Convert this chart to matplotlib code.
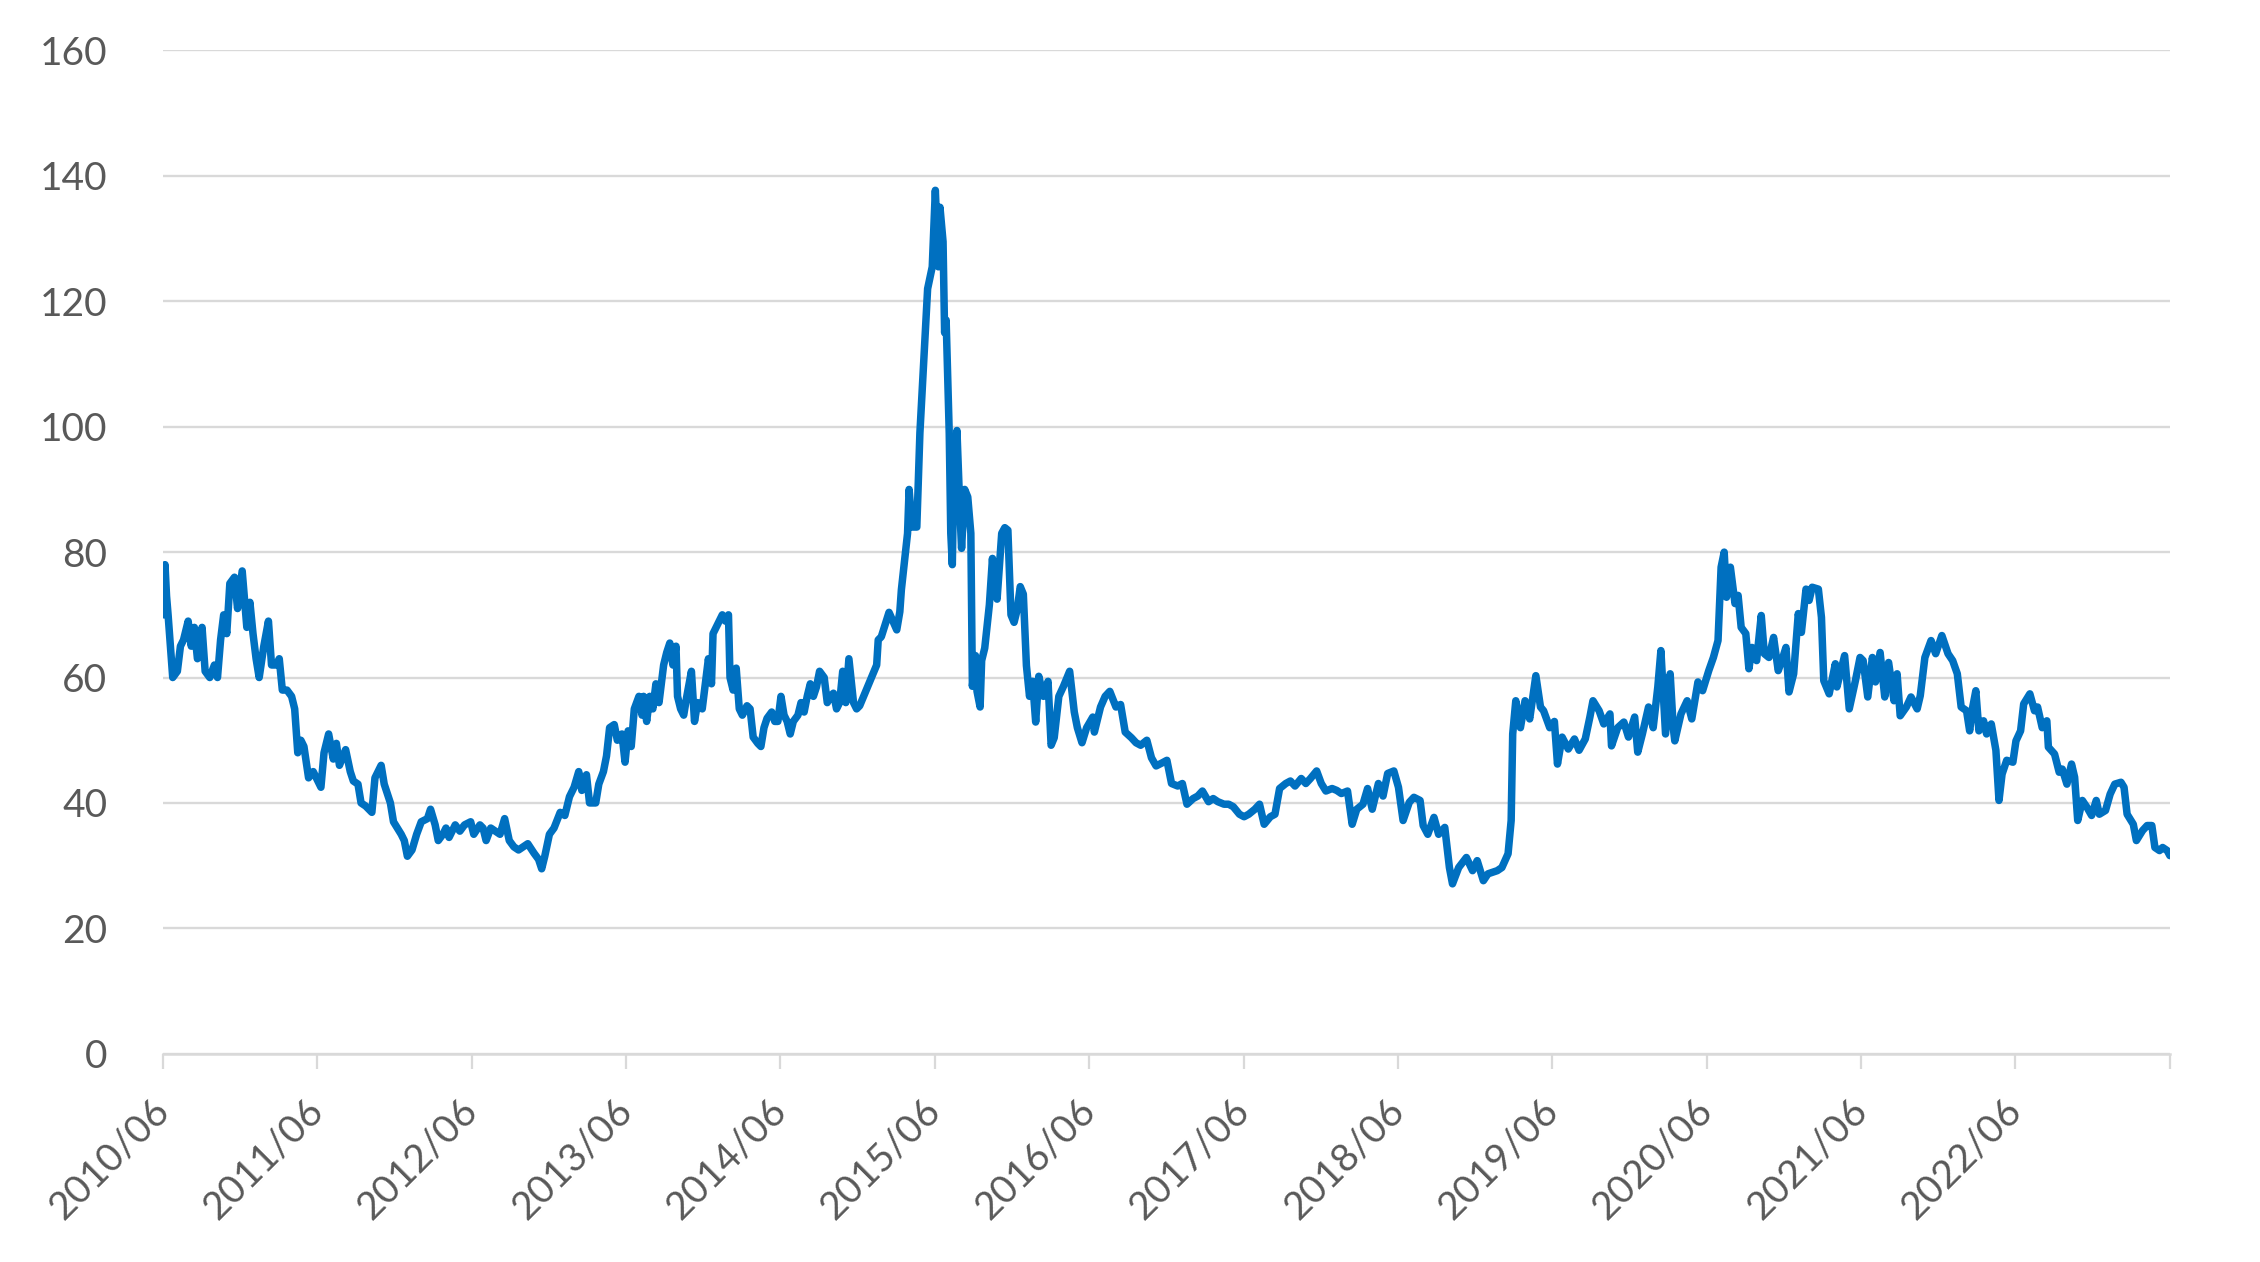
import numpy as np
import matplotlib
matplotlib.use("Agg")
import matplotlib.pyplot as plt

# values, x in decimal years
years_a = [2010.42, 2010.43, 2010.44, 2010.45, 2010.48, 2010.51, 2010.53, 2010.55, 2010.58, 2010.60,
           2010.62, 2010.64, 2010.67, 2010.69, 2010.72, 2010.75, 2010.77, 2010.79, 2010.81, 2010.83,
           2010.85, 2010.88, 2010.90, 2010.93, 2010.96, 2010.98, 2011.00, 2011.02, 2011.04, 2011.07,
           2011.10, 2011.12, 2011.15, 2011.17, 2011.19, 2011.22, 2011.25, 2011.27, 2011.29, 2011.31,
           2011.33, 2011.36, 2011.39, 2011.42, 2011.44, 2011.46, 2011.49, 2011.52, 2011.54, 2011.56,
           2011.60, 2011.63, 2011.65, 2011.68, 2011.70, 2011.73, 2011.77, 2011.79, 2011.83, 2011.85,
           2011.89, 2011.91, 2011.96, 2011.98, 2012.00, 2012.03, 2012.06, 2012.09, 2012.13, 2012.15,
           2012.18, 2012.20, 2012.23, 2012.25, 2012.27, 2012.31, 2012.34, 2012.37, 2012.41, 2012.43,
           2012.47, 2012.49, 2012.51, 2012.54, 2012.57, 2012.60, 2012.63, 2012.66, 2012.69, 2012.72,
           2012.75, 2012.78, 2012.82, 2012.85, 2012.87]
pe_a = [70, 78, 73, 70, 60, 61, 65, 66, 69, 65,
        68, 63, 68, 61, 60, 62, 60, 66, 70, 67,
        75, 76, 71, 77, 68, 72, 67, 63, 60, 65,
        69, 62, 62, 63, 58, 58, 57, 55, 48, 50,
        49, 44, 45, 43.5, 42.5, 48, 51, 47, 49.5, 46,
        48.5, 45, 43.5, 43, 40, 39.5, 38.5, 44, 46, 43,
        40, 37, 35, 34, 31.5, 32.5, 35, 37, 37.5, 39,
        36.5, 34, 35, 36, 34.5, 36.5, 35.5, 36.5, 37, 35,
        36.5, 36, 34, 36, 35.5, 35, 37.5, 34, 33, 32.5,
        33, 33.5, 32, 31, 29.5]

years_b = [2012.89, 2012.92, 2012.95, 2012.99, 2013.02, 2013.05, 2013.08, 2013.11, 2013.13, 2013.16,
           2013.18, 2013.22, 2013.24, 2013.27, 2013.29, 2013.31, 2013.34, 2013.36, 2013.39, 2013.41,
           2013.43, 2013.45, 2013.47, 2013.50, 2013.52, 2013.53, 2013.55, 2013.57, 2013.59, 2013.61,
           2013.63, 2013.66, 2013.68, 2013.70, 2013.72, 2013.74, 2013.75, 2013.77, 2013.79, 2013.81,
           2013.84, 2013.86, 2013.88, 2013.91, 2013.93, 2013.95, 2013.97, 2013.98, 2014.00, 2014.04,
           2014.06, 2014.08, 2014.09, 2014.11, 2014.13, 2014.15, 2014.17, 2014.20, 2014.22, 2014.24,
           2014.27, 2014.29, 2014.31, 2014.33, 2014.36, 2014.38, 2014.40, 2014.42, 2014.44, 2014.46,
           2014.48, 2014.50, 2014.53, 2014.55, 2014.57, 2014.59, 2014.61, 2014.63, 2014.65, 2014.67,
           2014.70, 2014.72, 2014.74, 2014.76, 2014.78, 2014.80, 2014.82, 2014.84, 2014.86, 2014.89,
           2014.91, 2014.93]
pe_b = [31.5, 35, 36, 38.5, 38, 41, 42.5, 45, 42, 44.5,
        40, 40, 43, 45, 47.5, 52, 52.5, 50, 51, 46.5,
        51.5, 49, 55, 57, 54, 57, 53, 57, 55, 59,
        56, 62, 64, 65.5, 62, 65, 57, 55, 54, 57,
        61, 53, 56, 55, 59, 63, 59, 67, 68, 70,
        69, 70, 60, 58, 61.5, 55, 54, 55.5, 55, 50.5,
        49.5, 49, 52, 53.5, 54.5, 53, 53, 57, 54, 53,
        51, 53, 54, 56, 54.5, 57, 59, 57, 58.5, 61,
        60, 56, 57, 57.5, 55, 56, 61, 56, 63, 56,
        55, 55.5]

years_c = [2015.04, 2015.05, 2015.07, 2015.12, 2015.17, 2015.19, 2015.20, 2015.24, 2015.25, 2015.27,
           2015.30, 2015.32, 2015.35, 2015.37, 2015.40, 2015.42, 2015.44, 2015.45, 2015.47, 2015.48,
           2015.49, 2015.51, 2015.52, 2015.53, 2015.54, 2015.56, 2015.58, 2015.59, 2015.61, 2015.63,
           2015.65, 2015.66, 2015.68, 2015.69, 2015.71, 2015.72, 2015.74, 2015.77, 2015.79, 2015.80,
           2015.82, 2015.85, 2015.87, 2015.89, 2015.91, 2015.93, 2015.95, 2015.97, 2015.99, 2016.01,
           2016.03, 2016.05, 2016.07, 2016.09, 2016.12, 2016.15, 2016.17, 2016.19, 2016.22, 2016.25,
           2016.29, 2016.32, 2016.34, 2016.37, 2016.40, 2016.44, 2016.45, 2016.49, 2016.52, 2016.55,
           2016.59, 2016.62, 2016.65, 2016.69, 2016.72, 2016.75, 2016.79, 2016.82, 2016.85, 2016.89,
           2016.92, 2016.95, 2016.99, 2017.02, 2017.05, 2017.09, 2017.12, 2017.15, 2017.19, 2017.22,
           2017.25, 2017.29, 2017.32, 2017.35, 2017.39, 2017.42, 2017.45, 2017.49, 2017.52, 2017.55,
           2017.59, 2017.62, 2017.65, 2017.69, 2017.72, 2017.75, 2017.79, 2017.82, 2017.85, 2017.89,
           2017.92, 2017.95, 2017.99, 2018.02, 2018.05, 2018.09, 2018.12, 2018.15, 2018.19, 2018.22,
           2018.25, 2018.29, 2018.32, 2018.35, 2018.39]
pe_c = [62, 66, 66.5, 70.4, 67.6, 70.5, 74, 83, 90, 84,
        84, 99, 113, 122, 125.5, 137.7, 125.5, 135, 129.5, 115,
        117, 99, 83, 78, 93, 99.4, 86, 80.6, 90, 88.8,
        83, 58.6, 63.5, 57.8, 55.3, 62.7, 64.7, 71.6, 79, 75,
        72.5, 83, 83.9, 83.5, 70, 68.8, 70.8, 74.5, 73.3, 61.9,
        57, 59.4, 52.9, 60.2, 57, 59.4, 49.2, 50.4, 57, 58.6,
        61, 54.5, 52, 49.6, 52, 53.7, 51.3, 55.3, 57, 57.8,
        55.3, 55.7, 51.3, 50.4, 49.6, 49.2, 50, 47.2, 45.9, 46.4,
        46.8, 43.1, 42.7, 43.1, 39.8, 40.7, 41.1, 41.9, 40.2, 40.7,
        40.2, 39.8, 39.8, 39.4, 38.2, 37.8, 38.2, 39, 39.8, 36.6,
        37.8, 38.2, 42.3, 43.1, 43.5, 42.7, 43.9, 43.1, 43.9, 45.1,
        43.1, 41.9, 42.3, 42, 41.5, 41.9, 36.6, 39, 39.8, 42.3,
        39, 43.1, 41.1, 44.7, 45.1]

years_d = [2018.42, 2018.45, 2018.49, 2018.52, 2018.56, 2018.58, 2018.61, 2018.65, 2018.68, 2018.72,
           2018.75, 2018.77, 2018.81, 2018.86, 2018.90, 2018.93, 2018.97, 2019.00, 2019.06, 2019.09,
           2019.13, 2019.15, 2019.16, 2019.18, 2019.21, 2019.24, 2019.27, 2019.31, 2019.34, 2019.36,
           2019.40, 2019.43, 2019.45, 2019.48, 2019.52, 2019.56, 2019.59, 2019.63, 2019.66, 2019.68,
           2019.72, 2019.75, 2019.79, 2019.80, 2019.84, 2019.88, 2019.91, 2019.95, 2019.97, 2020.00,
           2020.04, 2020.07, 2020.10, 2020.12, 2020.15, 2020.18, 2020.20, 2020.21, 2020.25, 2020.29,
           2020.32, 2020.36, 2020.39, 2020.43, 2020.46, 2020.49, 2020.51, 2020.53, 2020.545, 2020.57,
           2020.60, 2020.62, 2020.64, 2020.67, 2020.69, 2020.71, 2020.74, 2020.77, 2020.79, 2020.82,
           2020.85, 2020.88, 2020.91, 2020.93, 2020.95, 2020.98, 2021.01, 2021.03, 2021.06, 2021.08,
           2021.10, 2021.14, 2021.16, 2021.175, 2021.21, 2021.25, 2021.26, 2021.31, 2021.34, 2021.38,
           2021.41, 2021.43, 2021.46, 2021.49, 2021.51, 2021.54, 2021.57, 2021.595, 2021.63, 2021.65,
           2021.67, 2021.71, 2021.74, 2021.78, 2021.80, 2021.83, 2021.87, 2021.90, 2021.94, 2021.98,
           2022.01, 2022.04, 2022.065, 2022.10, 2022.12, 2022.14, 2022.16, 2022.18, 2022.21, 2022.23,
           2022.26, 2022.29, 2022.31, 2022.33, 2022.36, 2022.40, 2022.42, 2022.45, 2022.47, 2022.51,
           2022.54, 2022.56, 2022.59, 2022.62, 2022.63, 2022.67, 2022.70, 2022.72, 2022.75, 2022.78,
           2022.80, 2022.82, 2022.85, 2022.88, 2022.91, 2022.94, 2022.96, 2023.00, 2023.03, 2023.06,
           2023.10, 2023.12, 2023.14, 2023.18, 2023.20, 2023.24, 2023.27, 2023.30, 2023.32, 2023.35,
           2023.37, 2023.40, 2023.417]
pe_d = [42.5, 37.2, 40.1, 40.9, 40.4, 36.4, 35, 37.7, 35, 36.1,
        29.7, 27.1, 29.7, 31.3, 29.2, 30.8, 27.6, 28.7, 29.2, 29.7,
        31.9, 37.2, 51, 56.3, 52, 56.3, 53.4, 60.3, 55.3, 54.7,
        52, 53, 46.2, 50.5, 48.6, 50.2, 48.4, 50.2, 53.7, 56.3,
        54.7, 52.6, 54.2, 49.1, 52, 52.9, 50.5, 53.7, 48.1, 51,
        55.3, 52, 58.5, 64.3, 51, 60.6, 52, 49.9, 54.2, 56.3,
        53.4, 59.3, 57.9, 61.1, 63.2, 65.9, 77.6, 80, 72.8, 77.6,
        71.8, 73.1, 68, 67, 61.4, 64.8, 62.7, 69.9, 63.8, 63.2,
        66.4, 61.1, 63.2, 64.8, 57.7, 60.6, 70.2, 67.2, 74.1, 72.3,
        74.4, 74.1, 69.6, 59.5, 57.4, 62.2, 58.5, 63.5, 55, 59.5,
        63.2, 62.7, 56.9, 63.2, 59.3, 64, 56.9, 62.4, 56.3, 60.6,
        53.9, 55.3, 56.9, 55, 57.1, 63.2, 65.9, 63.8, 66.7, 63.8,
        62.7, 60.6, 55.3, 54.7, 51.5, 55.3, 57.9, 51.5, 53.1, 51,
        52.6, 48.4, 40.4, 44.6, 46.8, 46.5, 49.9, 51.5, 55.8, 57.4,
        54.7, 55.3, 52, 53.1, 48.9, 47.8, 44.9, 45.4, 43, 46.2,
        44.1, 37.2, 40.4, 39.3, 38, 40.4, 38.2, 38.8, 41.4, 43,
        43.3, 42.5, 38.2, 36.6, 34, 35.6, 36.4, 36.4, 32.9, 32.4,
        32.9, 32.4, 31.6]

tick_years = [2010 + 5 / 12 + k for k in range(14)]
tick_labels = [f"{2010 + k}/06" for k in range(13)] + [""]
y_ticks = list(range(0, 161, 20))

years = np.array(years_a + years_b + years_c + years_d)
pe = np.array(pe_a + pe_b + pe_c + pe_d)

plt.rcParams["font.family"] = ["Lato", "DejaVu Sans"]
grey = "#D9D9D9"
text_grey = "#595959"

fig = plt.figure(figsize=(22.6, 12.62), dpi=100)
ax = fig.add_axes([0.0721, 0.165, 0.888, 0.795])

ax.plot(years, pe, color="#0070C0", linewidth=5.4, solid_joinstyle="round",
        solid_capstyle="round", zorder=3)

ax.set_xlim(tick_years[0], tick_years[-1])
ax.set_ylim(0, 160)
ax.set_yticks(y_ticks)
ax.set_yticklabels([str(v) for v in y_ticks])
ax.set_xticks(tick_years)
ax.set_xticklabels(tick_labels, rotation=45, ha="right", va="center", rotation_mode="anchor")

ax.grid(axis="y", color=grey, linewidth=1.7, zorder=0)
ax.set_axisbelow(True)
for side in ["top", "right", "left"]:
    ax.spines[side].set_visible(False)
ax.spines["bottom"].set_color(grey)
ax.spines["bottom"].set_linewidth(1.8)

ax.tick_params(axis="y", length=0, pad=40, labelsize=28, labelcolor=text_grey)
ax.tick_params(axis="x", length=11, width=1.6, color=grey, pad=26, labelsize=28,
               labelcolor=text_grey)

fig.savefig("out.png", dpi=100, facecolor="white")
